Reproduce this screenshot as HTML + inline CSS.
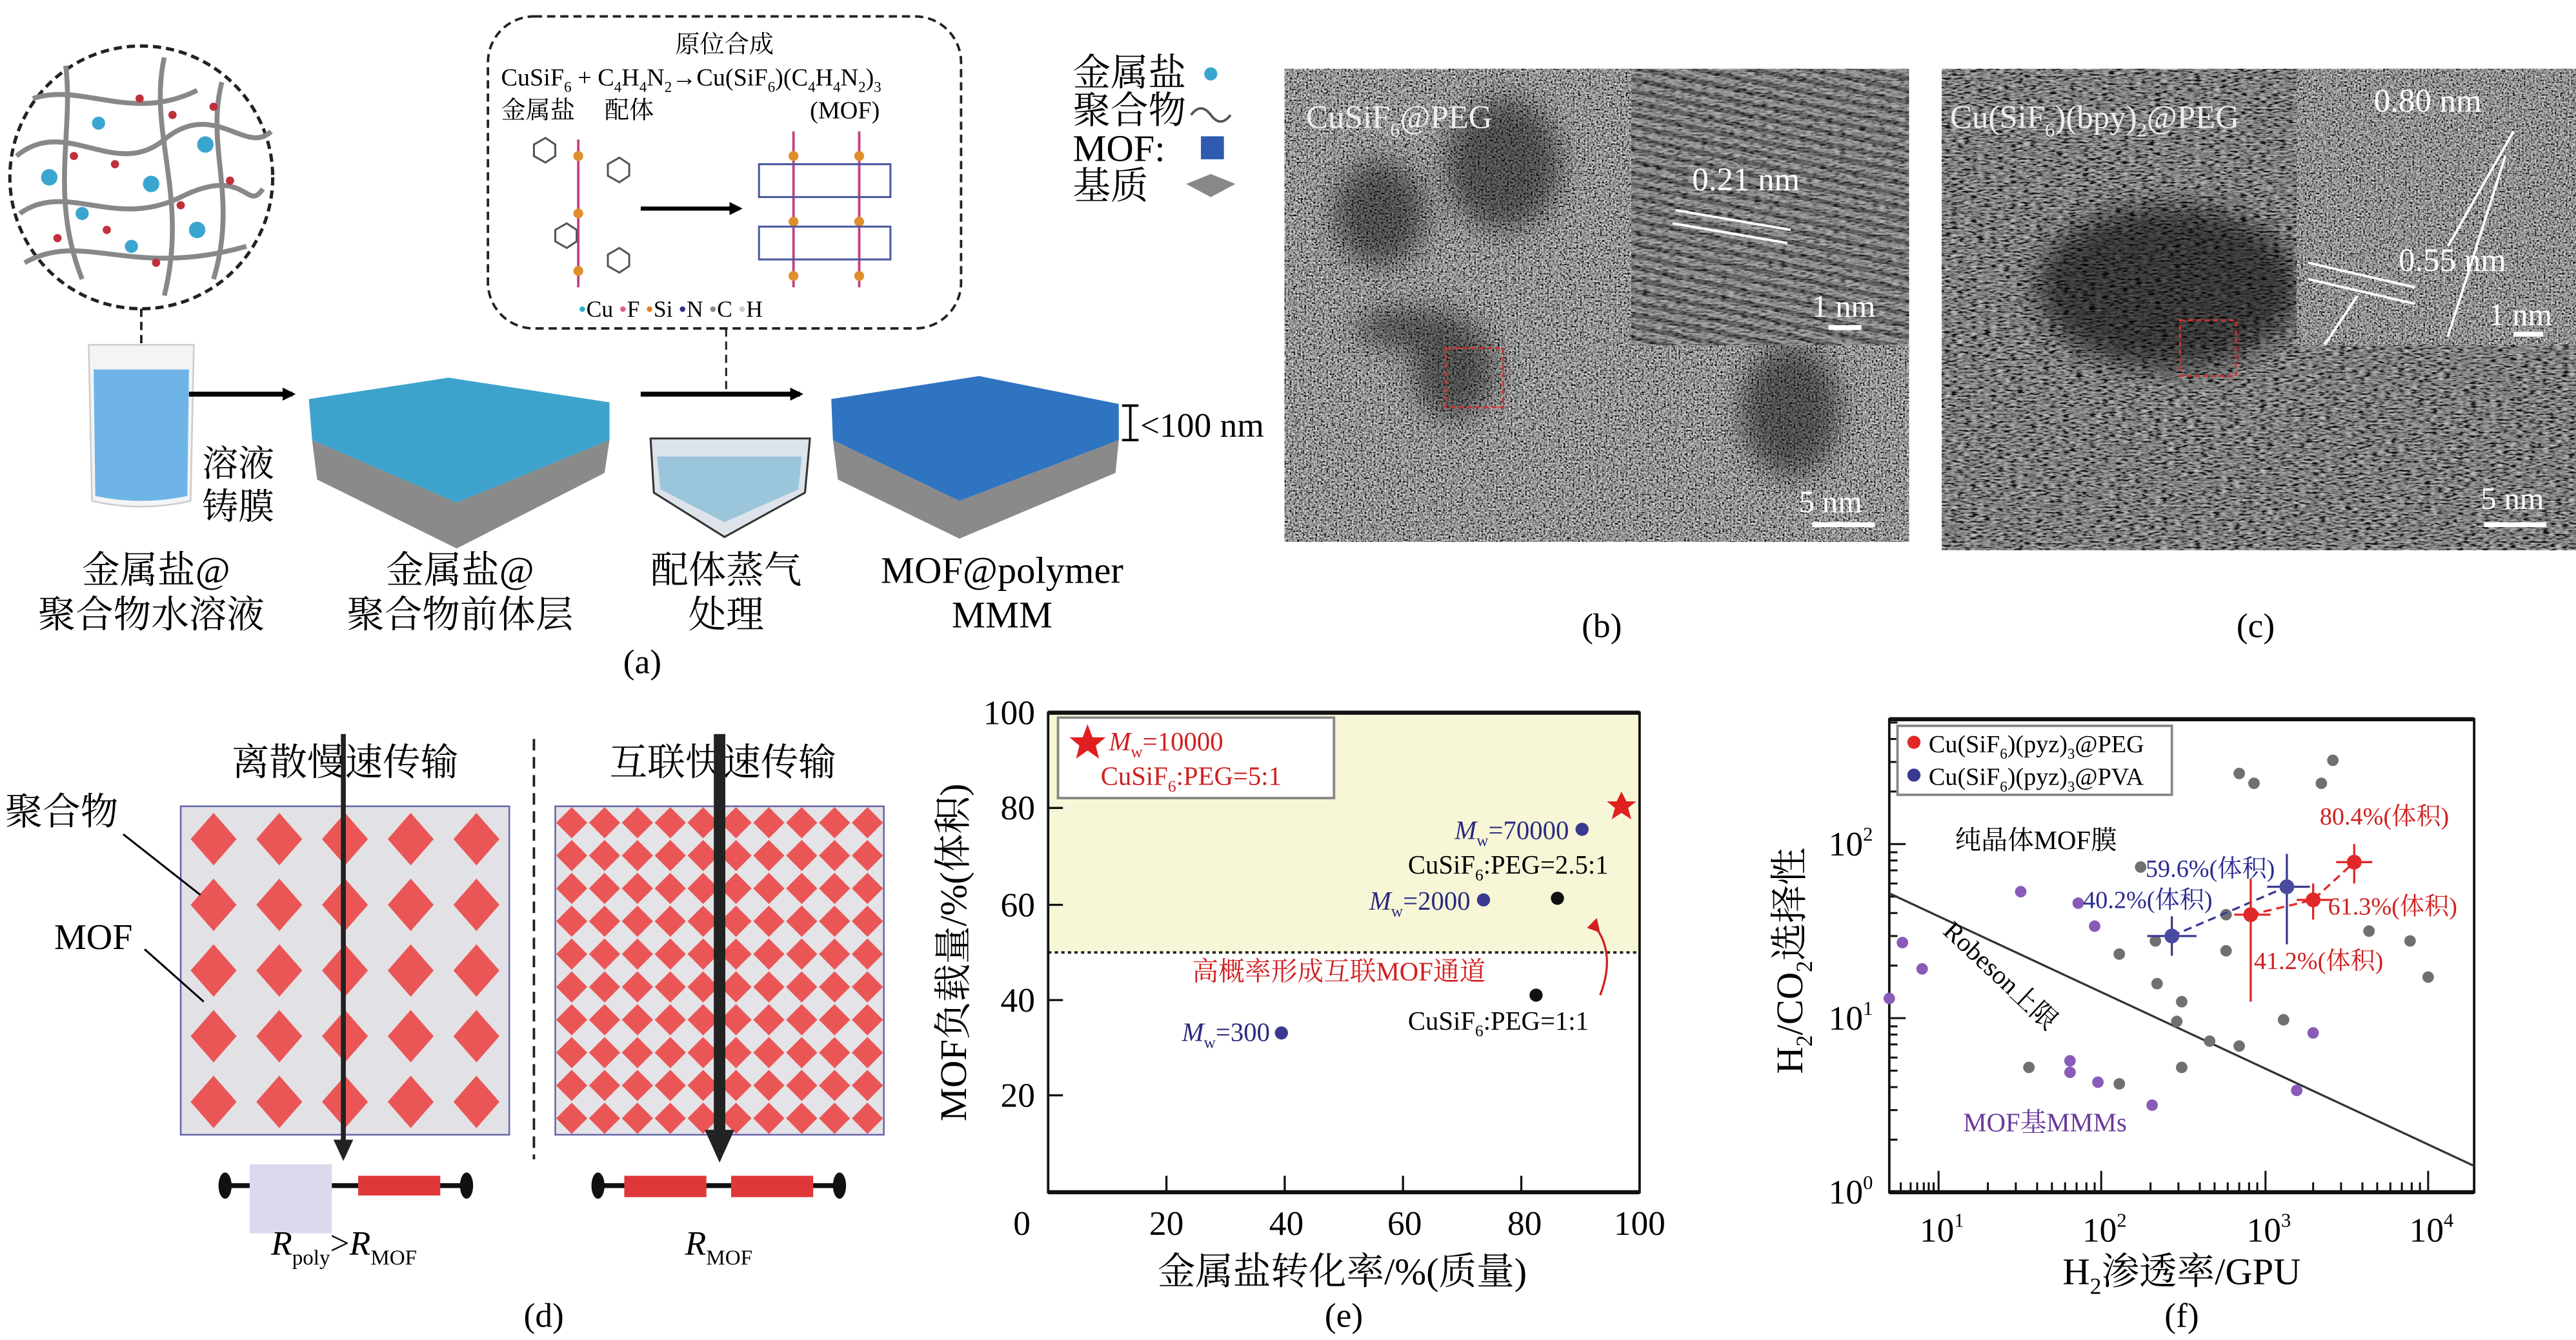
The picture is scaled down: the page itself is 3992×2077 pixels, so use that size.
<!DOCTYPE html>
<html><head><meta charset="utf-8"><style>
html,body{margin:0;padding:0;background:#fff;}
svg{display:block;font-family:"Liberation Serif","Noto Serif CJK SC",serif;}
text{font-family:"Liberation Serif","Noto Serif CJK SC",serif;}
</style></head><body>
<svg width="3992" height="2077" viewBox="0 0 1568 816" preserveAspectRatio="none" xmlns="http://www.w3.org/2000/svg">
<defs>
<filter id="noise" x="0" y="0" width="100%" height="100%">
<feTurbulence type="fractalNoise" baseFrequency="0.9" numOctaves="2" seed="3"/>
<feColorMatrix type="matrix" values="0.33 0.33 0.33 0 0  0.33 0.33 0.33 0 0  0.33 0.33 0.33 0 0  0 0 0 0 1"/>
<feComponentTransfer><feFuncR type="linear" slope="3" intercept="-1.15"/><feFuncG type="linear" slope="3" intercept="-1.15"/><feFuncB type="linear" slope="3" intercept="-1.15"/></feComponentTransfer>
</filter>
<filter id="noise2" x="0" y="0" width="100%" height="100%">
<feTurbulence type="fractalNoise" baseFrequency="0.25 0.9" numOctaves="2" seed="7"/>
<feColorMatrix type="matrix" values="0.33 0.33 0.33 0 0  0.33 0.33 0.33 0 0  0.33 0.33 0.33 0 0  0 0 0 0 1"/>
<feComponentTransfer><feFuncR type="linear" slope="3" intercept="-1.2"/><feFuncG type="linear" slope="3" intercept="-1.2"/><feFuncB type="linear" slope="3" intercept="-1.2"/></feComponentTransfer>
</filter>
<filter id="blur"><feGaussianBlur stdDeviation="8"/></filter>
<pattern id="pL" x="110" y="491" width="40" height="40" patternUnits="userSpaceOnUse">
<rect width="40" height="40" fill="#e2e2e6"/>
<polygon points="20,4 34,20 20,36 6,20" fill="#ea5656"/>
</pattern>
<pattern id="pR" x="338" y="491" width="20" height="20" patternUnits="userSpaceOnUse">
<rect width="20" height="20" fill="#e4e4e8"/>
<polygon points="10,0.5 19.5,10 10,19.5 0.5,10" fill="#ea5656"/>
</pattern>
<pattern id="fr" width="8" height="7" patternUnits="userSpaceOnUse" patternTransform="rotate(12)">
<rect width="8" height="7" fill="#8a8a8a"/><rect y="0" width="8" height="3" fill="#333"/>
</pattern>
<marker id="ah" markerWidth="8" markerHeight="8" refX="6" refY="4" orient="auto" markerUnits="userSpaceOnUse"><path d="M0,0 L8,4 L0,8 Z" fill="#000"/></marker>
</defs>

<!-- ===== Panel (a) ===== -->
<circle cx="86" cy="108" r="80" fill="#fff" stroke="#222" stroke-width="2" stroke-dasharray="5,3"/>
<g stroke="#888" stroke-width="3" fill="none">
<path d="M10,95 C40,70 70,110 100,85 S150,95 165,80"/>
<path d="M12,130 C40,110 70,140 110,120 S150,130 160,115"/>
<path d="M20,60 C50,50 80,75 120,55"/>
<path d="M15,160 C50,140 80,170 150,150"/>
<path d="M40,40 C45,80 30,120 50,170"/>
<path d="M100,35 C90,80 115,120 100,180"/>
<path d="M135,50 C125,90 145,120 130,170"/>
</g>
<g fill="#3aa6cf"><circle cx="30" cy="108" r="5"/><circle cx="92" cy="112" r="5"/><circle cx="125" cy="88" r="5"/><circle cx="60" cy="75" r="4"/><circle cx="120" cy="140" r="5"/><circle cx="80" cy="150" r="4"/><circle cx="50" cy="130" r="4"/></g>
<g fill="#c0303a"><circle cx="45" cy="95" r="2.5"/><circle cx="70" cy="100" r="2.5"/><circle cx="105" cy="70" r="2.5"/><circle cx="110" cy="125" r="2.5"/><circle cx="65" cy="140" r="2.5"/><circle cx="140" cy="110" r="2.5"/><circle cx="35" cy="145" r="2.5"/><circle cx="95" cy="160" r="2.5"/><circle cx="85" cy="60" r="2.5"/><circle cx="130" cy="65" r="2.5"/></g>
<line x1="86" y1="188" x2="86" y2="255" stroke="#222" stroke-width="1.5" stroke-dasharray="5,3"/>
<path d="M54,210 L118,210 L116,305 Q86,312 56,305 Z" fill="#f2f4f6" stroke="#ccc"/>
<path d="M57,225 L115,225 L114,302 Q86,308 58,302 Z" fill="#6fb4e6"/>
<line x1="115" y1="240" x2="178" y2="240" stroke="#000" stroke-width="3" marker-end="url(#ah)"/>
<text x="145" y="290" font-size="22" text-anchor="middle">溶液</text>
<text x="145" y="316" font-size="22" text-anchor="middle">铸膜</text>

<polygon points="190,268 278,306 371,268 368,288 278,334 193,292" fill="#8a8a8a"/>
<polygon points="188,243 273,230 371,245 371,268 278,306 190,268" fill="#3ea3cc"/>
<line x1="390" y1="240" x2="487" y2="240" stroke="#000" stroke-width="3" marker-end="url(#ah)"/>
<line x1="442" y1="200" x2="442" y2="238" stroke="#222" stroke-width="1.2" stroke-dasharray="5,3"/>
<polygon points="396,267 493,267 490,300 441,327 398,300" fill="#dde3ea" stroke="#333" stroke-width="1.2"/>
<polygon points="400,278 488,278 486,298 441,318 402,298" fill="#7fb8d4" opacity="0.7"/>
<polygon points="507,268 584,305 681,268 679,288 584,328 510,292" fill="#8a8a8a"/>
<polygon points="506,243 596,229 681,246 681,268 584,305 507,268" fill="#2f74c0"/>
<line x1="688" y1="247" x2="688" y2="268" stroke="#000" stroke-width="1.5"/>
<line x1="683" y1="247" x2="693" y2="247" stroke="#000" stroke-width="1.5"/>
<line x1="683" y1="268" x2="693" y2="268" stroke="#000" stroke-width="1.5"/>
<text x="694" y="266" font-size="21">&lt;100 nm</text>

<rect x="297" y="10" width="288" height="190" rx="28" fill="none" stroke="#222" stroke-width="1.5" stroke-dasharray="5,3"/>
<text x="441" y="32" font-size="15" text-anchor="middle">原位合成</text>
<text x="305" y="52" font-size="15">CuSiF<tspan font-size="9" dy="4">6</tspan><tspan dy="-4"> + C</tspan><tspan font-size="9" dy="4">4</tspan><tspan dy="-4">H</tspan><tspan font-size="9" dy="4">4</tspan><tspan dy="-4">N</tspan><tspan font-size="9" dy="4">2</tspan><tspan dy="-4">→Cu(SiF</tspan><tspan font-size="9" dy="4">6</tspan><tspan dy="-4">)(C</tspan><tspan font-size="9" dy="4">4</tspan><tspan dy="-4">H</tspan><tspan font-size="9" dy="4">4</tspan><tspan dy="-4">N</tspan><tspan font-size="9" dy="4">2</tspan><tspan dy="-4">)</tspan><tspan font-size="9" dy="4">3</tspan></text>
<text x="305" y="72" font-size="15">金属盐</text><text x="368" y="72" font-size="15">配体</text><text x="493" y="72" font-size="15">(MOF)</text>
<line x1="390" y1="127" x2="450" y2="127" stroke="#000" stroke-width="2.5" marker-end="url(#ah)"/>
<g stroke="#c04080" stroke-width="1.5"><line x1="352" y1="85" x2="352" y2="175"/><line x1="483" y1="80" x2="483" y2="175"/><line x1="523" y1="80" x2="523" y2="175"/></g>
<g fill="#e0902a"><circle cx="352" cy="95" r="3"/><circle cx="352" cy="130" r="3"/><circle cx="352" cy="165" r="3"/><circle cx="483" cy="95" r="3"/><circle cx="483" cy="135" r="3"/><circle cx="483" cy="168" r="3"/><circle cx="523" cy="95" r="3"/><circle cx="523" cy="135" r="3"/><circle cx="523" cy="168" r="3"/></g>
<g fill="none" stroke="#555" stroke-width="1.2"><polygon points="325,88 332,84 338,88 338,95 332,99 325,95"/><polygon points="370,100 377,96 383,100 383,107 377,111 370,107"/><polygon points="338,140 345,136 351,140 351,147 345,151 338,147"/><polygon points="370,155 377,151 383,155 383,162 377,166 370,162"/></g>
<g stroke="#4a5aa0" stroke-width="1.2" fill="none"><rect x="462" y="100" width="80" height="20"/><rect x="462" y="138" width="80" height="20"/></g>
<text x="352" y="193" font-size="14"><tspan fill="#2ab0d0">•</tspan>Cu <tspan fill="#e06080">•</tspan>F <tspan fill="#e08020">•</tspan>Si <tspan fill="#303090">•</tspan>N <tspan fill="#888">•</tspan>C <tspan fill="#ccc">•</tspan>H</text>

<text x="95" y="355" font-size="23" text-anchor="middle">金属盐@</text>
<text x="92" y="382" font-size="23" text-anchor="middle">聚合物水溶液</text>
<text x="280" y="355" font-size="23" text-anchor="middle">金属盐@</text>
<text x="280" y="382" font-size="23" text-anchor="middle">聚合物前体层</text>
<text x="442" y="355" font-size="23" text-anchor="middle">配体蒸气</text>
<text x="442" y="382" font-size="23" text-anchor="middle">处理</text>
<text x="610" y="355" font-size="23" text-anchor="middle">MOF@polymer</text>
<text x="610" y="382" font-size="23" text-anchor="middle">MMM</text>
<text x="391" y="410" font-size="21" text-anchor="middle">(a)</text>

<text x="653" y="52" font-size="23">金属盐</text><circle cx="737" cy="45" r="4" fill="#3aa6cf"/>
<text x="653" y="75" font-size="23">聚合物</text><path d="M725,70 q6,-8 12,0 t12,0" stroke="#555" fill="none" stroke-width="1.5"/>
<text x="653" y="98" font-size="23">MOF:</text><rect x="731" y="83" width="14" height="14" fill="#2f5ab0"/>
<text x="653" y="121" font-size="23">基质</text><polygon points="722,112 737,106 752,112 737,120" fill="#888"/>

<!-- ===== Panel (b) ===== -->
<rect x="782" y="42" width="380" height="288" fill="#666"/>
<rect x="782" y="42" width="380" height="288" filter="url(#noise)" opacity="0.9"/>
<g fill="#000" opacity="0.45" filter="url(#blur)"><ellipse cx="840" cy="130" rx="28" ry="32"/><ellipse cx="915" cy="100" rx="35" ry="40"/><ellipse cx="885" cy="225" rx="25" ry="30"/><ellipse cx="1090" cy="250" rx="30" ry="40"/><ellipse cx="860" cy="200" rx="35" ry="12"/></g>
<rect x="993" y="42" width="169" height="168" fill="url(#fr)"/>
<rect x="993" y="42" width="169" height="168" filter="url(#noise2)" opacity="0.45"/>
<line x1="1020" y1="128" x2="1090" y2="140" stroke="#fff" stroke-width="1.5"/><line x1="1018" y1="136" x2="1088" y2="148" stroke="#fff" stroke-width="1.5"/>
<text x="1030" y="116" font-size="20" fill="#fff">0.21 nm</text>
<text x="1103" y="193" font-size="19" fill="#fff">1 nm</text><rect x="1113" y="198" width="20" height="3" fill="#fff"/>
<text x="795" y="78" font-size="20" fill="#eee">CuSiF<tspan font-size="12" dy="5">6</tspan><tspan dy="-5">@PEG</tspan></text>
<rect x="880" y="212" width="35" height="36" fill="none" stroke="#d03030" stroke-width="1.2" stroke-dasharray="3,2"/>
<text x="1095" y="312" font-size="19" fill="#fff">5 nm</text><rect x="1103" y="318" width="38" height="3" fill="#fff"/>
<text x="975" y="388" font-size="21" text-anchor="middle">(b)</text>

<!-- ===== Panel (c) ===== -->
<rect x="1182" y="42" width="386" height="293" fill="#484848"/>
<rect x="1182" y="42" width="386" height="293" filter="url(#noise2)" opacity="0.75"/>
<ellipse cx="1320" cy="175" rx="80" ry="50" fill="#000" opacity="0.55" filter="url(#blur)"/>
<rect x="1398" y="42" width="170" height="168" fill="#666"/>
<rect x="1398" y="42" width="170" height="168" filter="url(#noise)" opacity="0.85"/>
<text x="1187" y="78" font-size="20" fill="#eee">Cu(SiF<tspan font-size="12" dy="5">6</tspan><tspan dy="-5">)(bpy)</tspan><tspan font-size="12" dy="5">2</tspan><tspan dy="-5">@PEG</tspan></text>
<text x="1445" y="68" font-size="20" fill="#fff">0.80 nm</text>
<g stroke="#fff" stroke-width="1.5"><line x1="1530" y1="80" x2="1490" y2="150"/><line x1="1525" y1="95" x2="1490" y2="205"/><line x1="1405" y1="160" x2="1470" y2="175"/><line x1="1405" y1="170" x2="1470" y2="185"/><line x1="1435" y1="180" x2="1415" y2="210"/></g>
<text x="1460" y="165" font-size="20" fill="#fff">0.55 nm</text>
<text x="1515" y="198" font-size="19" fill="#fff">1 nm</text><rect x="1530" y="202" width="18" height="3" fill="#fff"/>
<rect x="1327" y="195" width="34" height="34" fill="none" stroke="#d03030" stroke-width="1.2" stroke-dasharray="3,2"/>
<text x="1510" y="310" font-size="19" fill="#fff">5 nm</text><rect x="1512" y="318" width="38" height="3" fill="#fff"/>
<text x="1373" y="388" font-size="21" text-anchor="middle">(c)</text>

<!-- ===== Panel (d) ===== -->
<text x="210" y="472" font-size="23" text-anchor="middle">离散慢速传输</text>
<text x="440" y="472" font-size="23" text-anchor="middle">互联快速传输</text>
<rect x="110" y="491" width="200" height="200" fill="url(#pL)" stroke="#6666aa" stroke-width="1"/>
<rect x="338" y="491" width="200" height="200" fill="url(#pR)" stroke="#6666aa" stroke-width="1"/>
<text x="3" y="502" font-size="23">聚合物</text>
<line x1="75" y1="508" x2="122" y2="545" stroke="#000" stroke-width="1.2"/>
<text x="33" y="578" font-size="22">MOF</text>
<line x1="88" y1="578" x2="124" y2="610" stroke="#000" stroke-width="1.2"/>
<line x1="325" y1="450" x2="325" y2="706" stroke="#222" stroke-width="1.5" stroke-dasharray="7,4"/>
<line x1="209" y1="447" x2="209" y2="696" stroke="#222" stroke-width="3"/>
<polygon points="203,694 215,694 209,707" fill="#222"/>
<line x1="438" y1="447" x2="438" y2="690" stroke="#222" stroke-width="7"/>
<polygon points="429,688 447,688 438,708" fill="#222"/>
<line x1="136" y1="722" x2="285" y2="722" stroke="#111" stroke-width="3"/>
<ellipse cx="137" cy="722" rx="4" ry="8" fill="#111"/><ellipse cx="284" cy="722" rx="4" ry="8" fill="#111"/>
<rect x="152" y="709" width="50" height="42" fill="#dcd8ee"/>
<rect x="218" y="716" width="50" height="12" fill="#e03838"/>
<line x1="363" y1="722" x2="512" y2="722" stroke="#111" stroke-width="3"/>
<ellipse cx="364" cy="722" rx="4" ry="8" fill="#111"/><ellipse cx="511" cy="722" rx="4" ry="8" fill="#111"/>
<rect x="380" y="716" width="50" height="13" fill="#e03838"/>
<rect x="445" y="716" width="50" height="13" fill="#e03838"/>
<text x="165" y="764" font-size="21"><tspan font-style="italic">R</tspan><tspan font-size="13" dy="6">poly</tspan><tspan dy="-6">&gt;</tspan><tspan font-style="italic">R</tspan><tspan font-size="13" dy="6">MOF</tspan></text>
<text x="417" y="764" font-size="21"><tspan font-style="italic">R</tspan><tspan font-size="13" dy="6">MOF</tspan></text>
<text x="331" y="808" font-size="21" text-anchor="middle">(d)</text>

<!-- ===== Panel (e) ===== -->
<rect x="638" y="434" width="360" height="146" fill="#f7f7d8"/>
<line x1="638" y1="580" x2="998" y2="580" stroke="#222" stroke-width="1.5" stroke-dasharray="2,2"/>
<rect x="638" y="434" width="360" height="292" fill="none" stroke="#111" stroke-width="1.5"/>
<line x1="638" y1="434" x2="998" y2="434" stroke="#111" stroke-width="2.5"/>
<line x1="638" y1="726" x2="998" y2="726" stroke="#111" stroke-width="2.5"/>
<g stroke="#111" stroke-width="1.3"><line x1="638" y1="667" x2="647" y2="667"/><line x1="638" y1="609" x2="647" y2="609"/><line x1="638" y1="551" x2="647" y2="551"/><line x1="638" y1="492" x2="647" y2="492"/><line x1="710" y1="726" x2="710" y2="716"/><line x1="782" y1="726" x2="782" y2="716"/><line x1="854" y1="726" x2="854" y2="716"/><line x1="926" y1="726" x2="926" y2="716"/></g>
<g font-size="21" text-anchor="end"><text x="630" y="441">100</text><text x="630" y="499">80</text><text x="630" y="558">60</text><text x="630" y="616">40</text><text x="630" y="674">20</text></g>
<g font-size="21" text-anchor="middle"><text x="622" y="752">0</text><text x="710" y="752">20</text><text x="783" y="752">40</text><text x="855" y="752">60</text><text x="928" y="752">80</text><text x="998" y="752">100</text></g>
<text x="817" y="782" font-size="23" text-anchor="middle">金属盐转化率/%(质量)</text>
<text transform="translate(588,580) rotate(-90)" font-size="23" text-anchor="middle">MOF负载量/%(体积)</text>
<text x="818" y="808" font-size="21" text-anchor="middle">(e)</text>
<rect x="644" y="437" width="168" height="49" fill="#fff" stroke="#888" stroke-width="1.5"/>
<polygon points="662,441 665,449 673,449 667,454 669,462 662,457 655,462 657,454 651,449 659,449" fill="#e02020"/>
<text x="675" y="457" font-size="16" fill="#d02020"><tspan font-style="italic">M</tspan><tspan font-size="10" dy="4">w</tspan><tspan dy="-4">=10000</tspan></text>
<text x="670" y="478" font-size="16" fill="#d02020">CuSiF<tspan font-size="10" dy="4">6</tspan><tspan dy="-4">:PEG=5:1</tspan></text>
<polygon points="987,482 990,488 996,488 991,492 993,499 987,495 981,499 983,492 978,488 984,488" fill="#e02020"/>
<circle cx="963" cy="505" r="4" fill="#3a3a90"/>
<text x="955" y="511" font-size="16" fill="#2a2a80" text-anchor="end"><tspan font-style="italic">M</tspan><tspan font-size="10" dy="4">w</tspan><tspan dy="-4">=70000</tspan></text>
<text x="857" y="532" font-size="16">CuSiF<tspan font-size="10" dy="4">6</tspan><tspan dy="-4">:PEG=2.5:1</tspan></text>
<circle cx="903" cy="548" r="4" fill="#3a3a90"/>
<text x="895" y="554" font-size="16" fill="#2a2a80" text-anchor="end"><tspan font-style="italic">M</tspan><tspan font-size="10" dy="4">w</tspan><tspan dy="-4">=2000</tspan></text>
<circle cx="948" cy="547" r="4" fill="#111"/>
<text x="815" y="597" font-size="16" fill="#d02020" text-anchor="middle">高概率形成互联MOF通道</text>
<path d="M974,606 Q984,580 970,563" fill="none" stroke="#d02020" stroke-width="1.3"/>
<polygon points="966,565 972,559 974,568" fill="#d02020"/>
<circle cx="935" cy="606" r="4" fill="#111"/>
<text x="857" y="627" font-size="16">CuSiF<tspan font-size="10" dy="4">6</tspan><tspan dy="-4">:PEG=1:1</tspan></text>
<circle cx="780" cy="629" r="4" fill="#3a3a90"/>
<text x="773" y="634" font-size="16" fill="#2a2a80" text-anchor="end"><tspan font-style="italic">M</tspan><tspan font-size="10" dy="4">w</tspan><tspan dy="-4">=300</tspan></text>

<!-- ===== Panel (f) ===== -->
<rect x="1150" y="438" width="356" height="288" fill="none" stroke="#111" stroke-width="1.5"/>
<line x1="1150" y1="438" x2="1506" y2="438" stroke="#111" stroke-width="2.5"/>
<line x1="1150" y1="726" x2="1506" y2="726" stroke="#111" stroke-width="2.5"/>
<g stroke="#111" stroke-width="1.2">
<line x1="1150" y1="620" x2="1160" y2="620"/><line x1="1150" y1="514" x2="1160" y2="514"/>
<line x1="1150" y1="694" x2="1155" y2="694"/><line x1="1150" y1="676" x2="1155" y2="676"/><line x1="1150" y1="662" x2="1155" y2="662"/><line x1="1150" y1="652" x2="1155" y2="652"/><line x1="1150" y1="644" x2="1155" y2="644"/><line x1="1150" y1="636" x2="1155" y2="636"/><line x1="1150" y1="630" x2="1155" y2="630"/><line x1="1150" y1="625" x2="1155" y2="625"/>
<line x1="1150" y1="588" x2="1155" y2="588"/><line x1="1150" y1="570" x2="1155" y2="570"/><line x1="1150" y1="556" x2="1155" y2="556"/><line x1="1150" y1="546" x2="1155" y2="546"/><line x1="1150" y1="538" x2="1155" y2="538"/><line x1="1150" y1="530" x2="1155" y2="530"/><line x1="1150" y1="524" x2="1155" y2="524"/><line x1="1150" y1="519" x2="1155" y2="519"/>
<line x1="1150" y1="482" x2="1155" y2="482"/><line x1="1150" y1="464" x2="1155" y2="464"/><line x1="1150" y1="450" x2="1155" y2="450"/><line x1="1150" y1="440" x2="1155" y2="440"/>
<line x1="1180" y1="726" x2="1180" y2="713"/><line x1="1279" y1="726" x2="1279" y2="713"/><line x1="1379" y1="726" x2="1379" y2="713"/><line x1="1478" y1="726" x2="1478" y2="713"/>
<line x1="1157" y1="726" x2="1157" y2="720"/><line x1="1163" y1="726" x2="1163" y2="720"/><line x1="1167" y1="726" x2="1167" y2="720"/><line x1="1171" y1="726" x2="1171" y2="720"/><line x1="1174" y1="726" x2="1174" y2="720"/><line x1="1177" y1="726" x2="1177" y2="720"/>
<line x1="1210" y1="726" x2="1210" y2="720"/><line x1="1227" y1="726" x2="1227" y2="720"/><line x1="1240" y1="726" x2="1240" y2="720"/><line x1="1249" y1="726" x2="1249" y2="720"/><line x1="1257" y1="726" x2="1257" y2="720"/><line x1="1264" y1="726" x2="1264" y2="720"/><line x1="1270" y1="726" x2="1270" y2="720"/><line x1="1275" y1="726" x2="1275" y2="720"/>
<line x1="1309" y1="726" x2="1309" y2="720"/><line x1="1326" y1="726" x2="1326" y2="720"/><line x1="1339" y1="726" x2="1339" y2="720"/><line x1="1348" y1="726" x2="1348" y2="720"/><line x1="1356" y1="726" x2="1356" y2="720"/><line x1="1363" y1="726" x2="1363" y2="720"/><line x1="1369" y1="726" x2="1369" y2="720"/><line x1="1374" y1="726" x2="1374" y2="720"/>
<line x1="1408" y1="726" x2="1408" y2="720"/><line x1="1425" y1="726" x2="1425" y2="720"/><line x1="1438" y1="726" x2="1438" y2="720"/><line x1="1447" y1="726" x2="1447" y2="720"/><line x1="1455" y1="726" x2="1455" y2="720"/><line x1="1462" y1="726" x2="1462" y2="720"/><line x1="1468" y1="726" x2="1468" y2="720"/><line x1="1473" y1="726" x2="1473" y2="720"/>
</g>
<g font-size="21" text-anchor="end"><text x="1140" y="521">10<tspan font-size="12" dy="-9">2</tspan></text><text x="1140" y="627">10<tspan font-size="12" dy="-9">1</tspan></text><text x="1140" y="733">10<tspan font-size="12" dy="-9">0</tspan></text></g>
<g font-size="21" text-anchor="middle"><text x="1182" y="756">10<tspan font-size="12" dy="-9">1</tspan></text><text x="1281" y="756">10<tspan font-size="12" dy="-9">2</tspan></text><text x="1381" y="756">10<tspan font-size="12" dy="-9">3</tspan></text><text x="1480" y="756">10<tspan font-size="12" dy="-9">4</tspan></text></g>
<text x="1328" y="782" font-size="23" text-anchor="middle">H<tspan font-size="14" dy="6">2</tspan><tspan dy="-6">渗透率/GPU</tspan></text>
<text transform="translate(1097,585) rotate(-90)" font-size="23" text-anchor="middle">H<tspan font-size="14" dy="6">2</tspan><tspan dy="-6">/CO</tspan><tspan font-size="14" dy="6">2</tspan><tspan dy="-6">选择性</tspan></text>
<text x="1328" y="808" font-size="21" text-anchor="middle">(f)</text>
<line x1="1150" y1="544" x2="1506" y2="710" stroke="#333" stroke-width="1.3"/>
<text transform="translate(1182,568) rotate(43)" font-size="16">Robeson上限</text>
<text x="1190" y="517" font-size="16">纯晶体MOF膜</text>
<text x="1195" y="689" font-size="16" fill="#6a3a9a">MOF基MMMs</text>
<g fill="#707070"><circle cx="1363" cy="471" r="3.5"/><circle cx="1372" cy="477" r="3.5"/><circle cx="1420" cy="463" r="3.5"/><circle cx="1413" cy="477" r="3.5"/><circle cx="1303" cy="528" r="3.5"/><circle cx="1355" cy="557" r="3.5"/><circle cx="1442" cy="567" r="3.5"/><circle cx="1467" cy="573" r="3.5"/><circle cx="1290" cy="581" r="3.5"/><circle cx="1313" cy="599" r="3.5"/><circle cx="1328" cy="610" r="3.5"/><circle cx="1478" cy="595" r="3.5"/><circle cx="1325" cy="622" r="3.5"/><circle cx="1390" cy="621" r="3.5"/><circle cx="1345" cy="634" r="3.5"/><circle cx="1363" cy="637" r="3.5"/><circle cx="1235" cy="650" r="3.5"/><circle cx="1290" cy="660" r="3.5"/><circle cx="1328" cy="650" r="3.5"/><circle cx="1355" cy="579" r="3.5"/><circle cx="1312" cy="573" r="3.5"/></g>
<g fill="#8a5ab8"><circle cx="1230" cy="543" r="3.5"/><circle cx="1265" cy="550" r="3.5"/><circle cx="1275" cy="564" r="3.5"/><circle cx="1158" cy="574" r="3.5"/><circle cx="1170" cy="590" r="3.5"/><circle cx="1150" cy="608" r="3.5"/><circle cx="1408" cy="629" r="3.5"/><circle cx="1260" cy="646" r="3.5"/><circle cx="1260" cy="653" r="3.5"/><circle cx="1277" cy="659" r="3.5"/><circle cx="1310" cy="673" r="3.5"/><circle cx="1398" cy="664" r="3.5"/></g>
<g stroke="#3a3a90" stroke-width="1.3" fill="none"><line x1="1322" y1="570" x2="1392" y2="540" stroke-dasharray="5,3"/><line x1="1307" y1="570" x2="1337" y2="570"/><line x1="1322" y1="558" x2="1322" y2="582"/><line x1="1380" y1="540" x2="1406" y2="540"/><line x1="1392" y1="520" x2="1392" y2="575"/></g>
<circle cx="1322" cy="570" r="4.5" fill="#4a4aa0"/><circle cx="1392" cy="540" r="4.5" fill="#4a4aa0"/>
<g stroke="#e02828" stroke-width="1.3" fill="none"><polyline points="1370,557 1408,548 1433,525" stroke-dasharray="5,3"/><line x1="1360" y1="557" x2="1382" y2="557"/><line x1="1370" y1="535" x2="1370" y2="610"/><line x1="1398" y1="548" x2="1420" y2="548"/><line x1="1408" y1="538" x2="1408" y2="560"/><line x1="1422" y1="525" x2="1444" y2="525"/><line x1="1433" y1="514" x2="1433" y2="538"/></g>
<circle cx="1370" cy="557" r="4.5" fill="#e02828"/><circle cx="1408" cy="548" r="4.5" fill="#e02828"/><circle cx="1433" cy="525" r="4.5" fill="#e02828"/>
<g font-size="15"><text x="1412" y="502" fill="#d02020">80.4%(体积)</text><text x="1306" y="534" fill="#2a2a90">59.6%(体积)</text><text x="1268" y="553" fill="#2a2a90">40.2%(体积)</text><text x="1417" y="557" fill="#d02020">61.3%(体积)</text><text x="1372" y="590" fill="#d02020">41.2%(体积)</text></g>
<rect x="1155" y="442" width="167" height="42" fill="#fff" stroke="#888" stroke-width="1.5"/>
<circle cx="1165" cy="452" r="4" fill="#e02828"/><text x="1174" y="458" font-size="15">Cu(SiF<tspan font-size="9" dy="4">6</tspan><tspan dy="-4">)(pyz)</tspan><tspan font-size="9" dy="4">3</tspan><tspan dy="-4">@PEG</tspan></text>
<circle cx="1165" cy="472" r="4" fill="#3a3a90"/><text x="1174" y="478" font-size="15">Cu(SiF<tspan font-size="9" dy="4">6</tspan><tspan dy="-4">)(pyz)</tspan><tspan font-size="9" dy="4">3</tspan><tspan dy="-4">@PVA</tspan></text>
</svg>
</body></html>
